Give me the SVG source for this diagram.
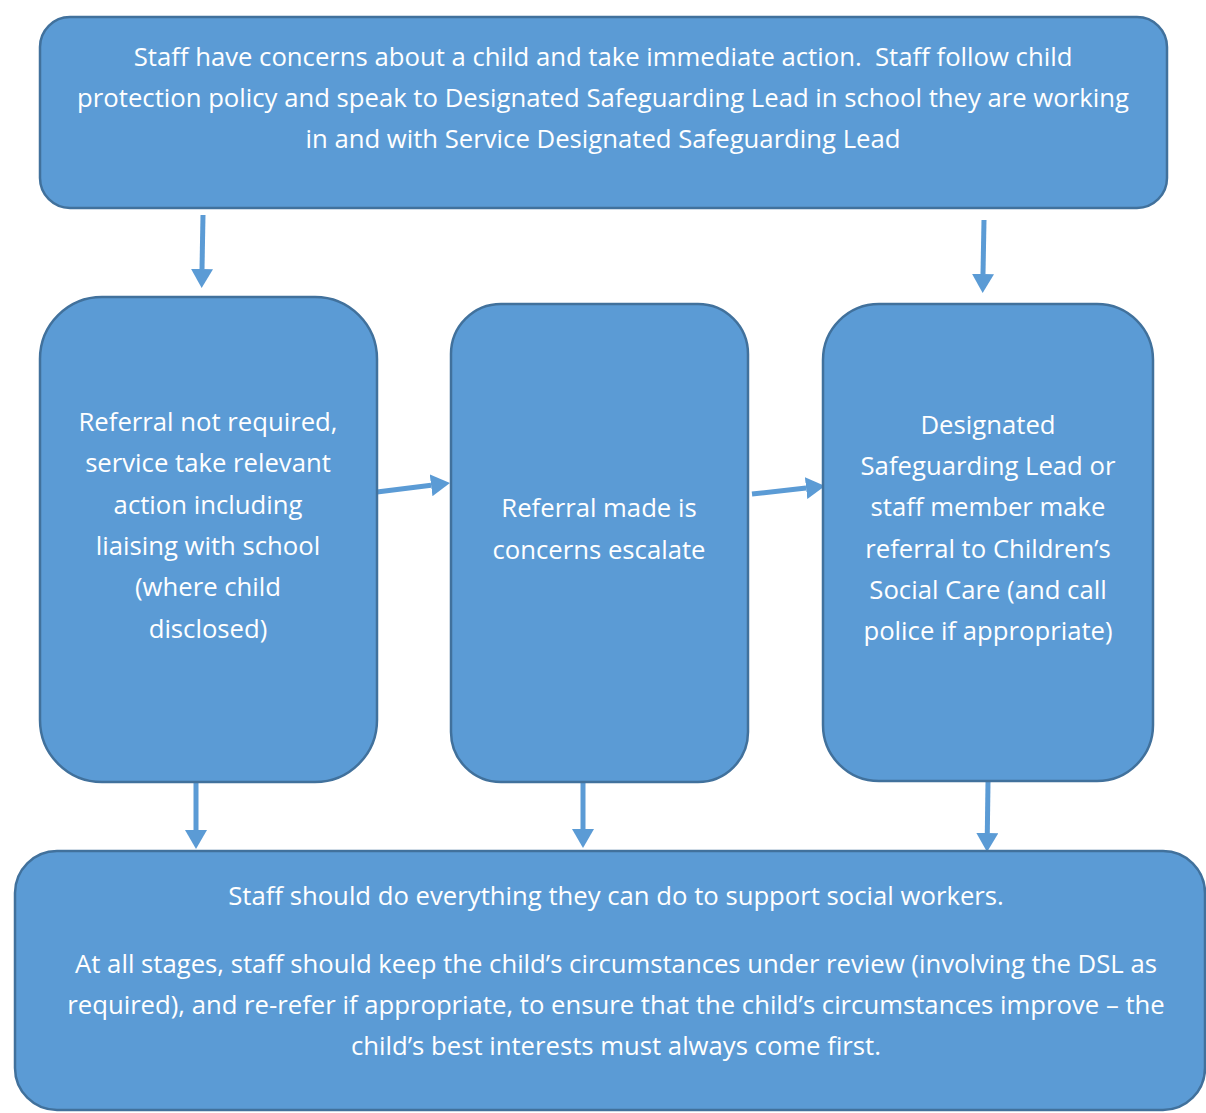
<svg xmlns="http://www.w3.org/2000/svg" width="1206" height="1113" viewBox="0 0 1206 1113">
<defs>
<style>
.box{fill:#5B9BD5;stroke:#41719C;stroke-width:2.5}
.t{font-family:"Open Sans","Noto Sans","Liberation Sans",sans-serif;font-size:25.7px;fill:#FFFFFF;text-anchor:middle}
.arr{stroke:#5B9BD5;stroke-width:5;fill:none;marker-end:url(#ah)}
</style>
<marker id="ah" markerUnits="userSpaceOnUse" markerWidth="20" markerHeight="22" refX="0" refY="11" orient="auto" viewBox="0 0 20 22">
<path d="M0,0 L19,11 L0,22 Z" fill="#5B9BD5"/>
</marker>
</defs>
<rect width="1206" height="1113" fill="#FFFFFF"/>
<g id="connectors">
<path class="arr" d="M203,215 L202,269"/>
<path class="arr" d="M984,220 L983,274"/>
<path class="arr" d="M377,492 L431.1,485.3"/>
<path class="arr" d="M752,494 L806.1,488.1"/>
<path class="arr" d="M196,783 L196,830"/>
<path class="arr" d="M583,783 L583,829"/>
<path class="arr" d="M988,782 L987.3,833"/>
</g>
<g id="node-top">
<rect class="box" x="40" y="17" width="1127" height="191" rx="30"/>
<text class="t" x="603" y="66" xml:space="preserve">Staff have concerns about a child and take immediate action.  Staff follow child</text>
<text class="t" x="603" y="107">protection policy and speak to Designated Safeguarding Lead in school they are working</text>
<text class="t" x="603" y="148">in and with Service Designated Safeguarding Lead</text>
</g>
<g id="node-left">
<rect class="box" x="40" y="297" width="337" height="485" rx="62"/>
<text class="t" x="208" y="431">Referral not required,</text>
<text class="t" x="208" y="472">service take relevant</text>
<text class="t" x="208" y="514">action including</text>
<text class="t" x="208" y="555">liaising with school</text>
<text class="t" x="208" y="596">(where child</text>
<text class="t" x="208" y="638">disclosed)</text>
</g>
<g id="node-middle">
<rect class="box" x="451" y="304" width="297" height="478" rx="50"/>
<text class="t" x="599" y="517">Referral made is</text>
<text class="t" x="599" y="559">concerns escalate</text>
</g>
<g id="node-right">
<rect class="box" x="823" y="304" width="330" height="477" rx="56"/>
<text class="t" x="988" y="434">Designated</text>
<text class="t" x="988" y="475">Safeguarding Lead or</text>
<text class="t" x="988" y="516">staff member make</text>
<text class="t" x="988" y="558">referral to Children’s</text>
<text class="t" x="988" y="599">Social Care (and call</text>
<text class="t" x="988" y="640">police if appropriate)</text>
</g>
<g id="node-bottom">
<rect class="box" x="15" y="851" width="1190" height="259" rx="42"/>
<text class="t" x="616" y="905">Staff should do everything they can do to support social workers.</text>
<text class="t" x="616" y="973">At all stages, staff should keep the child’s circumstances under review (involving the DSL as</text>
<text class="t" x="616" y="1014">required), and re-refer if appropriate, to ensure that the child’s circumstances improve – the</text>
<text class="t" x="616" y="1055">child’s best interests must always come first.</text>
</g>
</svg>
